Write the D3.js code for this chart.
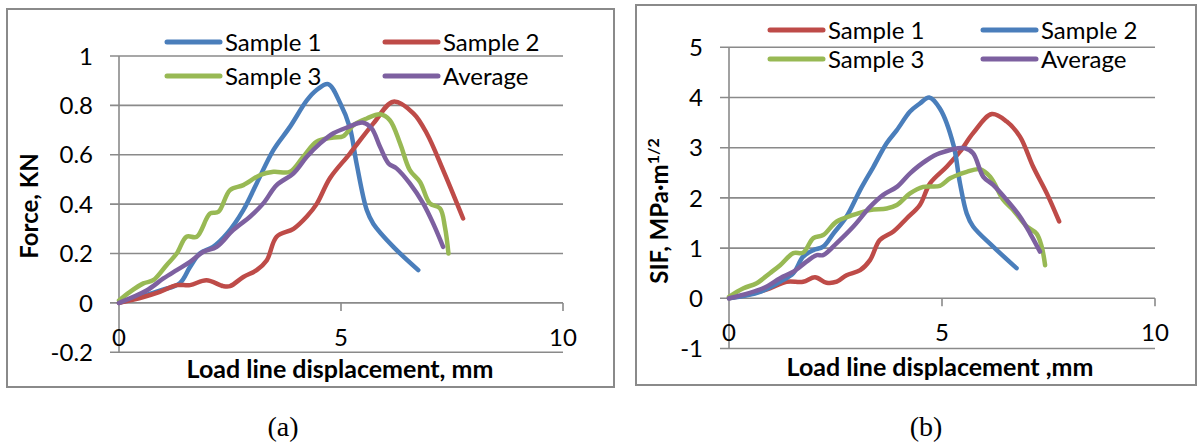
<!DOCTYPE html>
<html>
<head>
<meta charset="utf-8">
<script src="https://cdn.jsdelivr.net/npm/d3@7"></script>
<style>
  body { margin: 0; background: #fff; }
  text { font-family: Lato, "Open Sans", sans-serif; fill: #000; }
</style>
</head>
<body>
<div id="chart_container"></div>
<script>
// ---- data ----
// (a) Force vs load line displacement
const forceSample1 = [[0,0],[0.92,0.05],[1.37,0.08],[1.6,0.146],[1.82,0.2],[2.12,0.227],[2.43,0.28],[2.8,0.376],[3.1,0.484],[3.48,0.62],[3.85,0.713],[4.23,0.82],[4.45,0.862],[4.71,0.886],[4.98,0.81],[5.2,0.71],[5.35,0.565],[5.58,0.376],[5.73,0.32],[6.18,0.227],[6.74,0.133]];
const forceSample2 = [[0,0],[0.55,0.024],[0.92,0.045],[1.3,0.072],[1.6,0.072],[1.97,0.092],[2.35,0.068],[2.5,0.068],[2.8,0.105],[3.1,0.133],[3.33,0.173],[3.55,0.268],[3.93,0.3],[4.23,0.35],[4.45,0.4],[4.75,0.505],[5.2,0.605],[5.73,0.727],[6.18,0.815],[6.63,0.768],[6.93,0.687],[7.3,0.538],[7.75,0.342]];
const forceSample3 = [[0,0.01],[0.25,0.045],[0.55,0.079],[0.77,0.092],[1.07,0.153],[1.3,0.2],[1.52,0.268],[1.75,0.268],[2.05,0.362],[2.24,0.369],[2.5,0.457],[2.8,0.477],[3.18,0.518],[3.48,0.531],[3.85,0.531],[4.15,0.592],[4.45,0.653],[4.83,0.67],[5.05,0.675],[5.28,0.72],[5.58,0.747],[5.88,0.764],[6.1,0.74],[6.33,0.646],[6.55,0.538],[6.78,0.49],[7.0,0.403],[7.23,0.383],[7.34,0.308],[7.42,0.2]];
const forceAverage = [[0,0],[0.62,0.05],[1.0,0.099],[1.3,0.133],[1.6,0.166],[1.9,0.207],[2.2,0.227],[2.57,0.295],[2.95,0.349],[3.25,0.403],[3.55,0.477],[3.93,0.525],[4.23,0.592],[4.53,0.646],[4.83,0.687],[5.13,0.71],[5.5,0.73],[5.69,0.707],[5.88,0.632],[6.07,0.565],[6.25,0.545],[6.55,0.484],[6.85,0.403],[7.08,0.32],[7.3,0.227]];

// (b) SIF vs load line displacement
const sifSample1 = [[0,0],[0.57,0.1],[0.96,0.2],[1.35,0.33],[1.74,0.33],[2.02,0.42],[2.29,0.31],[2.53,0.33],[2.76,0.46],[3.08,0.56],[3.31,0.76],[3.54,1.16],[3.86,1.33],[4.17,1.59],[4.48,1.86],[4.72,2.29],[5.11,2.62],[5.42,2.92],[5.73,3.29],[6.17,3.67],[6.52,3.52],[6.83,3.22],[7.14,2.62],[7.46,2.09],[7.75,1.53]];
const sifSample2 = [[0,0],[0.73,0.13],[1.2,0.33],[1.51,0.5],[1.74,0.83],[1.98,0.96],[2.21,1.03],[2.45,1.29],[2.76,1.63],[3.08,2.16],[3.39,2.62],[3.7,3.09],[3.94,3.35],[4.25,3.72],[4.48,3.88],[4.7,4.0],[4.95,3.78],[5.27,3.05],[5.42,2.3],[5.58,1.69],[5.73,1.43],[6.2,1.03],[6.75,0.6]];
const sifSample3 = [[0,0.03],[0.34,0.2],[0.65,0.3],[0.96,0.5],[1.2,0.66],[1.51,0.9],[1.74,0.91],[1.98,1.2],[2.21,1.26],[2.53,1.53],[2.92,1.66],[3.31,1.76],[3.7,1.79],[3.94,1.86],[4.25,2.09],[4.56,2.22],[4.95,2.24],[5.19,2.39],[5.58,2.52],[5.89,2.57],[6.13,2.42],[6.44,1.96],[6.67,1.76],[6.99,1.43],[7.22,1.29],[7.34,1.03],[7.42,0.66]];
const sifAverage = [[0,0],[0.8,0.2],[1.2,0.4],[1.51,0.53],[1.82,0.73],[2.06,0.86],[2.21,0.86],[2.53,1.1],[2.92,1.43],[3.31,1.82],[3.62,2.06],[3.94,2.22],[4.25,2.49],[4.64,2.75],[4.95,2.89],[5.54,2.99],[5.73,2.89],[5.97,2.42],[6.2,2.26],[6.52,1.96],[6.83,1.63],[7.07,1.29],[7.3,0.93]];

const forceTicks = [-0.2, 0, 0.2, 0.4, 0.6, 0.8, 1];
const sifTicks = [-1, 0, 1, 2, 3, 4, 5];
const xTicks = [0, 5, 10];

const blue = "#4a7ebb", red = "#be4b48", green = "#98b954", purple = "#7d60a0";

const svg = d3.select("#chart_container")
    .append("svg")
    .attr("width", 1200)
    .attr("height", 444);

function DrawChart(opt) {
    const g = svg.append("g");

    // outer frame
    g.append("rect")
        .attr("x", opt.box[0]).attr("y", opt.box[1])
        .attr("width", opt.box[2]).attr("height", opt.box[3])
        .attr("fill", "none").attr("stroke", "#8a8a8a").attr("stroke-width", 2);

    const x = d3.scaleLinear().domain([0, 10]).range(opt.xRange);
    const y = d3.scaleLinear().domain(opt.yDomain).range(opt.yRange);

    // horizontal gridlines + left ticks
    g.append("g").selectAll("line")
        .data(opt.yTicks)
        .enter()
        .append("line")
            .attr("x1", x(0) - 9).attr("x2", x(10))
            .attr("y1", d => y(d)).attr("y2", d => y(d))
            .attr("stroke", "#8a8a8a").attr("stroke-width", 1.6);

    // y axis line
    g.append("line")
        .attr("x1", x(0)).attr("x2", x(0))
        .attr("y1", y(opt.yDomain[0])).attr("y2", y(opt.yDomain[1]))
        .attr("stroke", "#8a8a8a").attr("stroke-width", 1.6);

    // x ticks below the zero line
    g.append("g").selectAll("line")
        .data(xTicks.slice(1))
        .enter()
        .append("line")
            .attr("x1", d => x(d)).attr("x2", d => x(d))
            .attr("y1", y(0)).attr("y2", y(0) + 8)
            .attr("stroke", "#8a8a8a").attr("stroke-width", 1.6);

    // y tick labels
    g.append("g").selectAll("text")
        .data(opt.yTicks)
        .enter()
        .append("text")
            .attr("x", x(0) - 26)
            .attr("y", d => y(d))
            .attr("dy", "0.36em")
            .attr("text-anchor", "end")
            .attr("font-size", 24)
            .text(d => d);

    // x tick labels
    g.append("g").selectAll("text")
        .data(xTicks)
        .enter()
        .append("text")
            .attr("x", d => x(d))
            .attr("y", y(0) + 34)
            .attr("dy", "0.36em")
            .attr("text-anchor", "middle")
            .attr("font-size", 24)
            .text(d => d);

    // axis titles
    g.append("text")
        .attr("x", opt.xTitlePos[0]).attr("y", opt.xTitlePos[1])
        .attr("text-anchor", "middle")
        .attr("font-size", 25).attr("font-weight", "bold")
        .text(opt.xTitle);

    const yt = g.append("text")
        .attr("transform", `translate(${opt.yTitlePos[0]},${opt.yTitlePos[1]}) rotate(-90)`)
        .attr("text-anchor", "middle")
        .attr("font-size", 24).attr("font-weight", "bold");
    yt.append("tspan").text(opt.yTitle);
    if (opt.yTitleSup) {
        yt.append("tspan").attr("dy", -9).attr("font-size", 16).text(opt.yTitleSup);
    }

    // series lines
    const line = d3.line()
        .x(d => x(d[0]))
        .y(d => y(d[1]))
        .curve(d3.curveCatmullRom.alpha(0.5));

    g.append("g").selectAll("path")
        .data(opt.series)
        .enter()
        .append("path")
            .attr("d", d => line(d.values))
            .attr("fill", "none")
            .attr("stroke", d => d.color)
            .attr("stroke-width", 4.5)
            .attr("stroke-linecap", "round")
            .attr("stroke-linejoin", "round");

    // legend, two columns x two rows
    const lg = g.append("g").selectAll("g")
        .data(opt.series)
        .enter()
        .append("g")
            .attr("transform", (d, i) => `translate(${opt.legendCols[i % 2]},${opt.legendRows[Math.floor(i / 2)]})`);
    lg.append("line")
        .attr("x1", 0).attr("x2", 53)
        .attr("stroke", d => d.color)
        .attr("stroke-width", 5)
        .attr("stroke-linecap", "round");
    lg.append("text")
        .attr("x", 58).attr("dy", "0.36em")
        .attr("font-size", 24)
        .text(d => d.name);

    // caption
    svg.append("text")
        .attr("x", opt.caption[1]).attr("y", 436)
        .attr("text-anchor", "middle")
        .style("font-family", "'Liberation Serif', 'Times New Roman', serif")
        .attr("font-size", 28)
        .text(opt.caption[0]);
}

DrawChart({
    box: [7, 9, 607, 378],
    xRange: [119, 563],
    yDomain: [-0.2, 1],
    yRange: [352.3, 56],
    yTicks: forceTicks,
    xTitle: "Load line displacement, mm",
    xTitlePos: [340, 378],
    yTitle: "Force, KN",
    yTitlePos: [38, 206],
    series: [
        {name: "Sample 1", color: blue, values: forceSample1},
        {name: "Sample 2", color: red, values: forceSample2},
        {name: "Sample 3", color: green, values: forceSample3},
        {name: "Average", color: purple, values: forceAverage}
    ],
    legendCols: [167, 385],
    legendRows: [42, 76],
    caption: ["(a)", 283]
});

DrawChart({
    box: [636, 5, 560, 380],
    xRange: [729, 1155],
    yDomain: [-1, 5],
    yRange: [348.5, 47.3],
    yTicks: sifTicks,
    xTitle: "Load line displacement ,mm",
    xTitlePos: [940, 376],
    yTitle: "SIF, MPa·m",
    yTitleSup: "1/2",
    yTitlePos: [668, 211],
    series: [
        {name: "Sample 1", color: red, values: sifSample1},
        {name: "Sample 2", color: blue, values: sifSample2},
        {name: "Sample 3", color: green, values: sifSample3},
        {name: "Average", color: purple, values: sifAverage}
    ],
    legendCols: [770, 983],
    legendRows: [30, 59],
    caption: ["(b)", 926]
});
</script>
</body>
</html>
